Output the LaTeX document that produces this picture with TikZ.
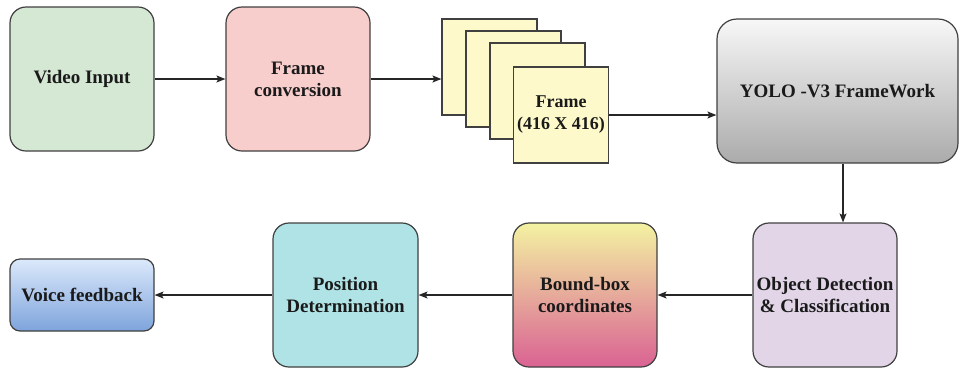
\documentclass[tikz,border=0pt]{standalone}
\usepackage{fontspec}
\setmainfont{Liberation Serif}
\usetikzlibrary{arrows.meta}
\definecolor{bordc}{HTML}{404040}
\definecolor{txtc}{HTML}{1A1A1A}
\definecolor{greenf}{HTML}{D5E8D4}
\definecolor{redf}{HTML}{F8CECC}
\definecolor{yellowf}{HTML}{FDF9CB}
\definecolor{purplef}{HTML}{E1D5E7}
\definecolor{cyanf}{HTML}{B0E3E6}
\definecolor{graytop}{HTML}{F7F7F7}
\definecolor{graybot}{HTML}{ABABAB}
\definecolor{bbtop}{HTML}{F3F2A2}
\definecolor{bbbot}{HTML}{DA6293}
\definecolor{bluetop}{HTML}{DCE9FB}
\definecolor{bluebot}{HTML}{7EA4DC}
\tikzset{
  box/.style={draw=bordc, line width=1.2pt, rounded corners=16pt, inner sep=0pt,
    align=center, text=txtc, font=\fontsize{19}{22}\selectfont\bfseries,
    minimum width=144pt, minimum height=144pt},
  framebox/.style={draw=bordc, line width=1.2pt, fill=yellowf, inner sep=0pt,
    align=center, text=txtc, font=\fontsize{18}{22}\selectfont\bfseries,
    minimum width=95pt, minimum height=96pt},
  arr/.style={draw=black!85, line width=1.1pt, -{Stealth[length=9pt,width=7pt,inset=2pt]}}
}
\begin{document}
\begin{tikzpicture}[x=1pt,y=-1pt]
\useasboundingbox (0,0) rectangle (960,368);
% top row
\node[box, fill=greenf] (vid) at (82,79) {Video Input};
\node[box, fill=redf] (fc) at (298,79) {Frame\\conversion};
\node[framebox] (f1) at (489.5,67) {};
\node[framebox] (f2) at (513.5,79) {};
\node[framebox] (f3) at (537.5,91) {};
\node[framebox] (f4) at (561,115) {Frame\\(416 X 416)};
\node[box, rounded corners=20pt, minimum width=241pt, top color=graytop, bottom color=graybot] (yolo) at (837.5,91) {YOLO -V3 FrameWork};
% bottom row
\node[box, fill=purplef] (obj) at (825,295) {Object Detection\\\& Classification};
\node[box, top color=bbtop, bottom color=bbbot] (bb) at (585,295) {Bound-box\\coordinates};
\node[box, fill=cyanf, minimum width=145pt] (pos) at (345.5,295) {Position\\Determination};
\node[box, rounded corners=10pt, minimum height=72pt, top color=bluetop, bottom color=bluebot] (voice) at (82,295) {Voice feedback};
% connectors
\draw[arr] (vid.east) -- (fc.west);
\draw[arr] (fc.east) -- (fc.east -| f1.west);
\draw[arr] (f4.east) -- (f4.east -| yolo.west);
\draw[arr] ([xshift=5.5pt]yolo.south) -- ([xshift=5.5pt]yolo.south |- obj.north);
\draw[arr] (obj.west) -- (bb.east);
\draw[arr] (bb.west) -- (pos.east);
\draw[arr] (pos.west) -- (voice.east);
\end{tikzpicture}
\end{document}
